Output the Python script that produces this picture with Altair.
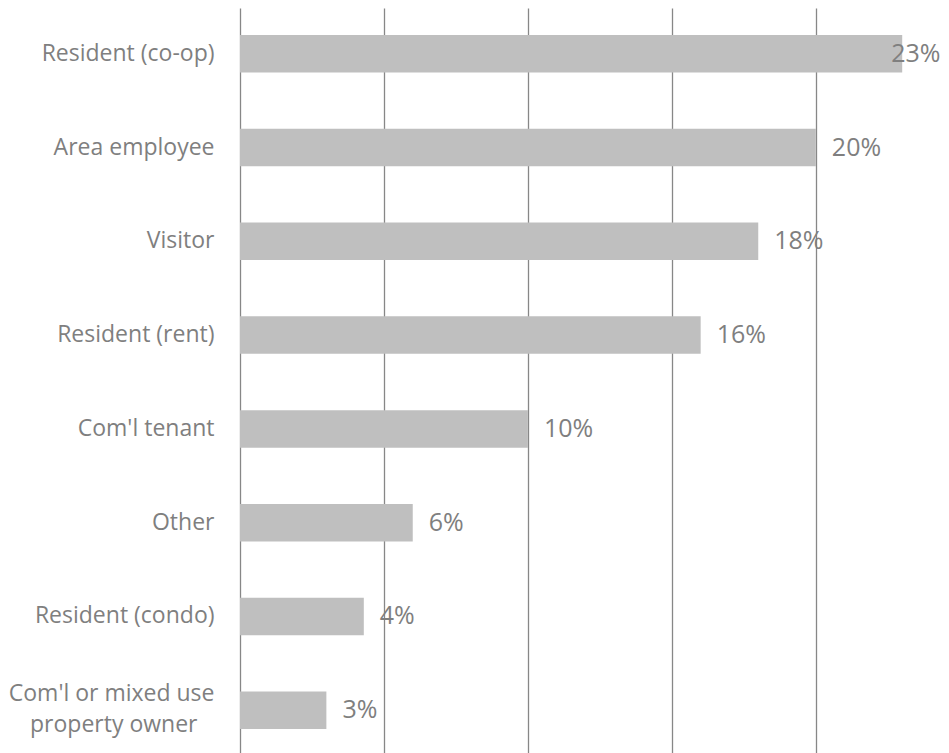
import altair as alt
import pandas as pd

categories = ["Resident (co-op)", "Area employee", "Visitor", "Resident (rent)",
              "Com'l tenant", "Other", "Resident (condo)",
              "Com'l or mixed use|property owner\u2800"]
values = [23, 20, 18, 16, 10, 6, 4.3, 3]
grid_values = [0, 5, 10, 15, 20]

df = pd.DataFrame({"category": categories, "value": values})

TEXT = "#7f7f7f"
FONT = "Open Sans"

y_enc = alt.Y("category:N", sort=categories, title=None,
              scale=alt.Scale(paddingInner=0.6, paddingOuter=0.288),
              axis=alt.Axis(domain=False, ticks=False, tickSize=0, labelPadding=26,
                            labelFont=FONT, labelFontSize=23, labelColor=TEXT,
                            labelLimit=300, labelLineHeight=31,
                            labelOffset=alt.condition("indexof(datum.value, '|') >= 0",
                                                      alt.value(-16), alt.value(0)),
                            labelExpr="split(datum.label, '|')"))

x_scale = alt.Scale(domain=[0, 24], nice=False, zero=True)

bars = alt.Chart(df).mark_bar(color="#bfbfbf").encode(
    x=alt.X("value:Q", scale=x_scale, title=None,
            axis=alt.Axis(values=grid_values, labels=False, ticks=False, domain=False,
                          grid=True, gridColor="#878787", gridWidth=1.3, gridOpacity=1)),
    y=y_enc,
)

labels = alt.Chart(df).transform_calculate(
    pos="min(datum.value, 22.06)",
    txt="round(datum.value) + '%'"
).mark_text(align="left", baseline="middle", dx=16, font=FONT, fontSize=25,
            color=TEXT).encode(
    x=alt.X("pos:Q", scale=x_scale),
    y=alt.Y("category:N", sort=categories),
    text="txt:N",
)

chart = alt.layer(bars, labels).properties(
    width=691, height=748,
    autosize=alt.AutoSizeParams(type="none"),
    padding={"left": 232, "top": 0, "right": 10, "bottom": 0},
).configure_view(stroke=None).configure_axis(gridCap="butt")

chart.save("out.html", embed_options={"renderer": "svg", "actions": False})
